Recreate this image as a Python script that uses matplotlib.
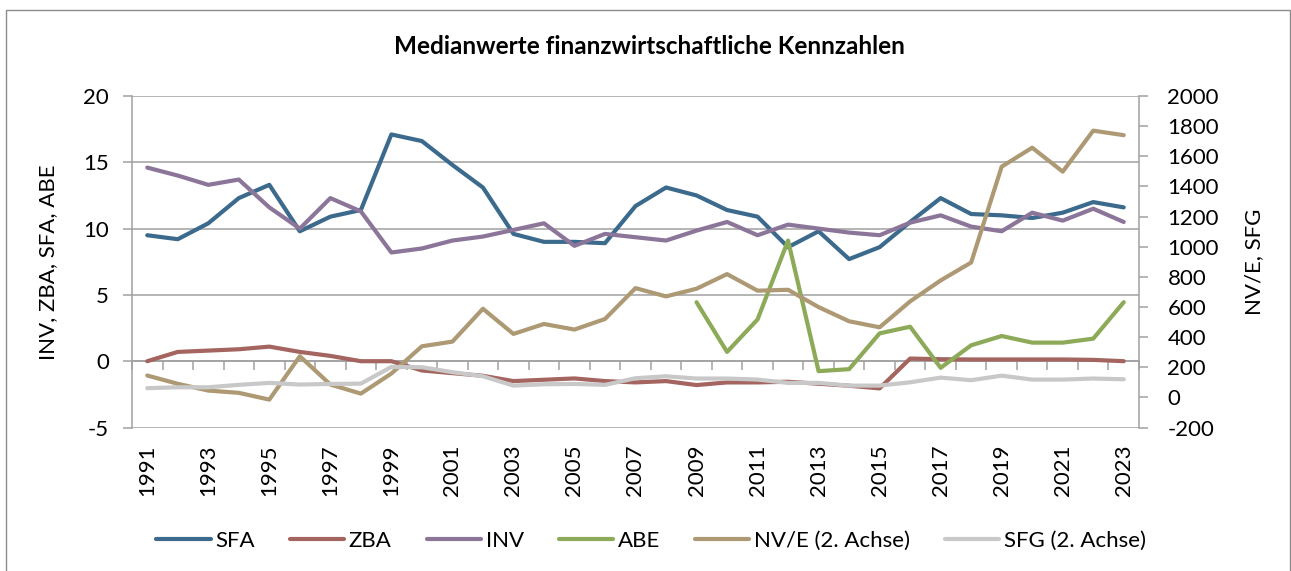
import numpy as np
import matplotlib
matplotlib.use("Agg")
import matplotlib.pyplot as plt
from matplotlib.patches import Rectangle

years = list(range(1991, 2024))
SFA = [9.5, 9.2, 10.4, 12.3, 13.3, 9.8, 10.9, 11.4, 17.1, 16.6, 14.8, 13.1, 9.6, 9.0, 9.0, 8.9,
       11.7, 13.1, 12.5, 11.4, 10.9, 8.6, 9.8, 7.7, 8.6, 10.5, 12.3, 11.1, 11.0, 10.8, 11.2, 12.0, 11.6]
ZBA = [0.0, 0.7, 0.8, 0.9, 1.1, 0.7, 0.4, 0.0, 0.0, -0.7, -0.9, -1.1, -1.5, -1.4, -1.3, -1.5,
       -1.6, -1.5, -1.8, -1.6, -1.6, -1.55, -1.7, -1.85, -2.05, 0.2, 0.15, 0.13, 0.13, 0.13, 0.13, 0.1, 0.0]
INV = [14.6, 14.0, 13.3, 13.7, 11.6, 10.0, 12.3, 11.3, 8.2, 8.5, 9.1, 9.4, 9.9, 10.4, 8.7, 9.6,
       9.35, 9.1, 9.85, 10.5, 9.5, 10.3, 10.0, 9.7, 9.5, 10.45, 11.0, 10.15, 9.8, 11.2, 10.6, 11.5, 10.5]
ABE = [np.nan] * 18 + [4.45, 0.7, 3.15, 9.1, -0.75, -0.6, 2.1, 2.6, -0.5, 1.2, 1.9, 1.4, 1.4, 1.7, 4.45]
NVE = [145, 90, 45, 30, -15, 273, 85, 25, 158, 339, 370, 588, 421, 487, 450, 520,
       725, 670, 721, 818, 708, 714, 599, 505, 465, 637, 776, 895, 1531, 1657, 1498, 1770, 1740]
SFG = [61, 67, 67, 83, 96, 85, 89, 91, 202, 200, 167, 140, 78, 87, 89, 83,
       127, 140, 125, 125, 118, 96, 96, 78, 78, 100, 131, 114, 144, 118, 118, 125, 120]

title = "Medianwerte finanzwirtschaftliche Kennzahlen"
left_label = "INV, ZBA, SFA, ABE"
right_label = "NV/E, SFG"
left_ticks = [-5, 0, 5, 10, 15, 20]
right_ticks = [-200, 0, 200, 400, 600, 800, 1000, 1200, 1400, 1600, 1800, 2000]

colors = {"SFA": "#3B6A8D", "ZBA": "#A4645F", "INV": "#8B7599",
          "ABE": "#8CAA58", "NVE": "#AD9A74", "SFG": "#C8C8C8"}

plt.rcParams['font.family'] = ['Lato', 'DejaVu Sans']
FS = 16
grid_c = "#A0A0A0"

fig = plt.figure(figsize=(12.91, 5.71), dpi=100)
W, H = 1291, 571
ax = fig.add_axes([132 / W, 1 - 427.5 / H, (1139 - 132) / W, (427.5 - 96) / H])
ax2 = ax.twinx()

x = np.arange(len(years))
lw = 3.0
l1, = ax.plot(x, SFA, color=colors["SFA"], lw=lw, label="SFA", zorder=3, solid_capstyle='round')
l2, = ax.plot(x, ZBA, color=colors["ZBA"], lw=lw, label="ZBA", zorder=3, solid_capstyle='round')
l3, = ax.plot(x, INV, color=colors["INV"], lw=lw, label="INV", zorder=3, solid_capstyle='round')
l4, = ax.plot(x, ABE, color=colors["ABE"], lw=lw, label="ABE", zorder=3, solid_capstyle='round')
l5, = ax2.plot(x, NVE, color=colors["NVE"], lw=lw, label="NV/E (2. Achse)", zorder=3, solid_capstyle='round')
l6, = ax2.plot(x, SFG, color=colors["SFG"], lw=lw, label="SFG (2. Achse)", zorder=3, solid_capstyle='round')

ax.set_xlim(-0.5, len(years) - 0.5)
ax.set_ylim(-5, 20)
ax2.set_ylim(-200, 2000)
ax.set_yticks(left_ticks)
ax2.set_yticks(right_ticks)
ax.set_yticklabels([str(t) for t in left_ticks], fontsize=FS)
ax2.set_yticklabels([str(t) for t in right_ticks], fontsize=FS)

# gridlines
for t in left_ticks:
    ax.axhline(t, color=grid_c, lw=1.1, zorder=1)

# spines
for s in ["top"]:
    ax.spines[s].set_visible(False)
    ax2.spines[s].set_visible(False)
ax2.spines["bottom"].set_visible(False)
ax2.spines["left"].set_visible(False)
ax.spines["right"].set_visible(False)
ax.spines["left"].set_color(grid_c)
ax.spines["left"].set_linewidth(1.1)
ax2.spines["right"].set_color(grid_c)
ax2.spines["right"].set_linewidth(1.1)
ax.spines["bottom"].set_position(("data", 0))
ax.spines["bottom"].set_color(grid_c)
ax.spines["bottom"].set_linewidth(1.1)
ax.spines["bottom"].set_zorder(1.5)

ax.tick_params(axis='y', direction='out', length=6.5, width=1.1, color=grid_c, pad=10, labelsize=FS)
ax2.tick_params(axis='y', direction='out', length=6.5, width=1.1, color=grid_c, pad=14, labelsize=FS)
ax.set_xticks(np.arange(len(years) + 1) - 0.5)
ax.set_xticklabels([])
ax.tick_params(axis='x', direction='out', length=6.5, width=1.1, color=grid_c)

# category labels (odd years) at the bottom
trans = ax.get_xaxis_transform()
for i, yr in enumerate(years):
    if i % 2 == 0:
        ax.text(i, -0.052, str(yr), rotation=90, ha='center', va='top',
                fontsize=FS, transform=trans)

ax.set_ylabel(left_label, fontsize=FS, labelpad=8)
ax2.set_ylabel(right_label, fontsize=FS, labelpad=10)
ax.yaxis.set_label_coords(-0.073, 0.5)
ax2.yaxis.set_label_coords(1.104, 0.5)

fig.text(649 / W, 1 - 46 / H, title, ha='center', va='center', fontsize=17.5, fontweight='bold')

leg = fig.legend([l1, l2, l3, l4, l5, l6], [h.get_label() for h in [l1, l2, l3, l4, l5, l6]],
                 loc='center', bbox_to_anchor=(651 / W, 1 - 541 / H), ncol=6, frameon=False,
                 fontsize=FS, handlelength=2.45, handletextpad=0.2, columnspacing=1.58)

fig.patches.append(Rectangle((6 / W, -0.01), (1290 - 6) / W, (571 - 10) / H + 0.01,
                             transform=fig.transFigure, fill=False, edgecolor="#8C8C8C", lw=1.0))

fig.savefig("out.png", dpi=100)
